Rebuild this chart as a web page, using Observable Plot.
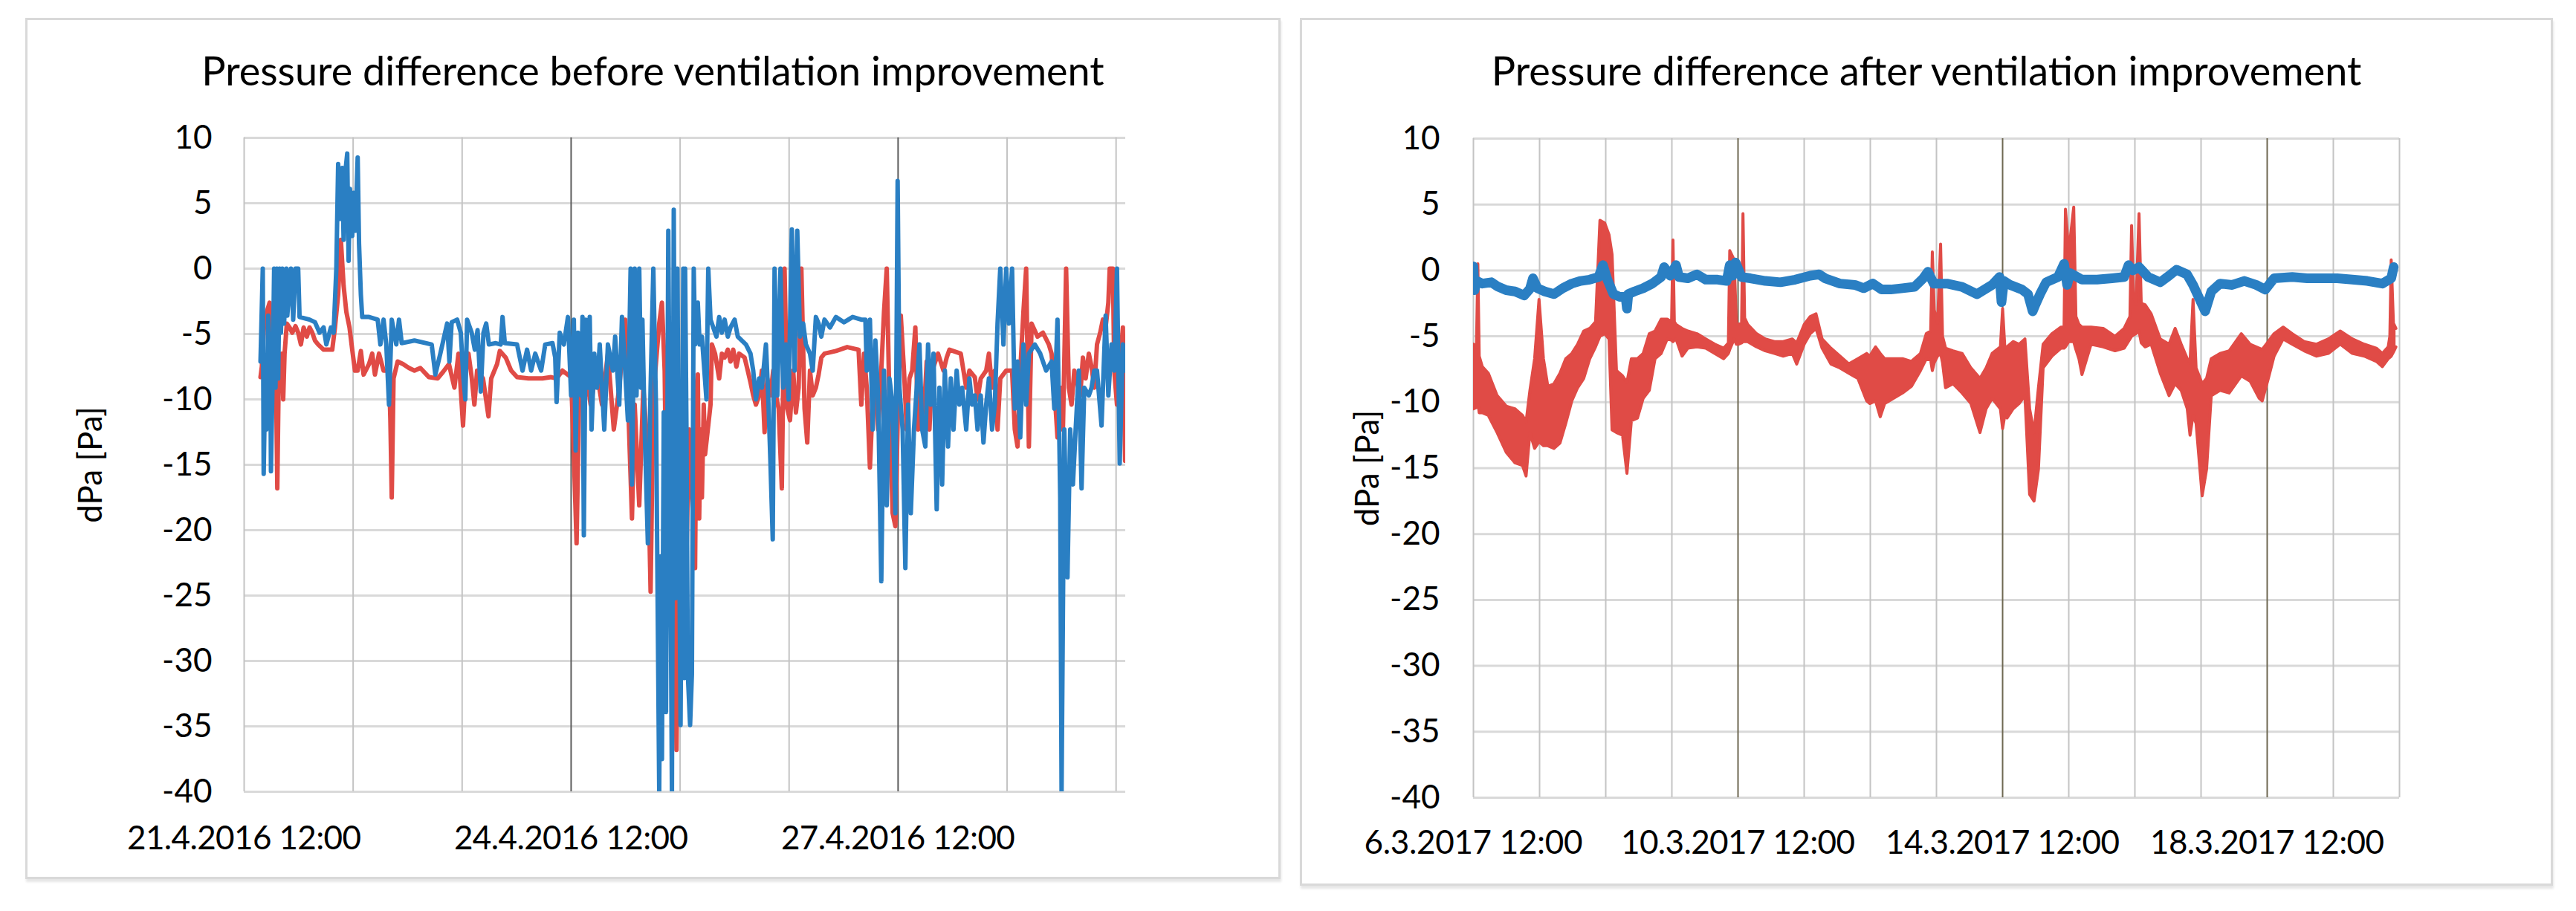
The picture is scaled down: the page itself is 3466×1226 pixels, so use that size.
<!DOCTYPE html>
<html><head><meta charset="utf-8">
<script src="https://cdn.jsdelivr.net/npm/d3@7"></script>
<script src="https://cdn.jsdelivr.net/npm/@observablehq/plot@0.6"></script>
<style>
html,body{margin:0;padding:0;background:#fff;width:3466px;height:1226px;overflow:hidden;font-family:Lato,sans-serif;}
.panel{position:absolute;border:3px solid #d9d9d9;box-sizing:border-box;box-shadow:1px 4px 3px rgba(0,0,0,0.10);background:#fff;}
.title{position:absolute;text-align:center;font-size:54px;color:#000;white-space:nowrap;line-height:60px;height:60px;}
.chart{position:absolute;}
</style></head><body>
<div class="panel" style="left:34px;top:24px;width:1689px;height:1159px"></div>
<div class="panel" style="left:1749px;top:24px;width:1686px;height:1168px"></div>
<div class="title" style="left:34px;width:1689px;top:65px">Pressure difference before ventilation improvement</div>
<div class="title" style="left:1749px;width:1686px;top:65px">Pressure difference after ventilation improvement</div>
<div id="left" class="chart" style="left:34px;top:120px"></div>
<div id="right" class="chart" style="left:1749px;top:120px"></div>
<script>
// ---- axis values ----
const yTicks = [10, 5, 0, -5, -10, -15, -20, -25, -30, -35, -40];
const yLabel = "dPa [Pa]";
// hours after 21.4.2016 12:00
const leftTickHours = [0, 72, 144];
const leftTickLabels = ["21.4.2016 12:00", "24.4.2016 12:00", "27.4.2016 12:00"];
const leftMinorHours = [0, 24, 48, 96, 120, 168, 192];
const leftMajorHours = [72, 144];
// hours after 6.3.2017 12:00
const rightTickHours = [0, 96, 192, 288];
const rightTickLabels = ["6.3.2017 12:00", "10.3.2017 12:00", "14.3.2017 12:00", "18.3.2017 12:00"];
const rightMinorHours = [0, 24, 48, 72, 120, 144, 168, 216, 240, 264, 312, 336];
const rightMajorHours = [96, 192, 288];

// ---- before: [hour, dPa] ----
const beforeRed = [[3.6,-8.3],[3.9,-7.5],[4.4,-4.2],[5.0,-3.3],[5.6,-2.6],[5.9,-9.1],[6.6,-7.8],[7.0,-7.8],[7.3,-16.8],[7.6,-8.7],[8.0,-8.4],[8.3,-6.5],[8.6,-10.0],[8.9,-6.5],[9.4,-4.2],[10.0,-4.5],[10.6,-4.9],[11.3,-4.4],[11.9,-4.9],[12.5,-5.8],[13.1,-4.5],[13.8,-5.2],[14.4,-4.5],[15.0,-4.9],[15.6,-5.5],[16.3,-5.8],[17.5,-6.2],[19.4,-6.2],[20.0,-4.5],[20.7,-2.0],[21.3,2.2],[21.9,-1.3],[22.5,-3.3],[23.2,-4.5],[23.8,-6.2],[24.4,-7.8],[25.0,-7.8],[25.7,-6.3],[26.3,-8.1],[27.5,-7.3],[28.2,-6.5],[28.8,-8.1],[29.7,-6.5],[30.7,-7.8],[31.9,-7.8],[32.2,-11.6],[32.5,-17.5],[32.9,-8.4],[33.8,-7.1],[35.0,-7.3],[36.3,-7.6],[37.5,-7.8],[38.8,-7.6],[40.7,-8.3],[42.6,-8.4],[43.8,-7.9],[45.1,-7.3],[46.3,-9.1],[47.2,-6.5],[48.2,-12.0],[48.8,-7.8],[49.4,-6.5],[50.1,-8.3],[50.7,-10.4],[51.3,-7.8],[52.6,-8.4],[53.8,-11.3],[54.4,-8.4],[55.7,-7.3],[56.3,-6.3],[57.6,-6.8],[58.8,-7.8],[60.1,-8.3],[62.6,-8.4],[65.7,-8.4],[67.6,-8.3],[68.8,-8.4],[70.1,-7.8],[72.0,-8.3],[72.6,-14.2],[73.2,-21.0],[73.8,-9.1],[75.1,-7.5],[76.3,-10.4],[77.6,-7.8],[78.8,-10.4],[80.1,-6.5],[81.4,-12.3],[82.6,-9.1],[83.9,-3.9],[84.5,-9.7],[85.4,-19.1],[86.0,-10.4],[87.0,-18.1],[87.9,-9.1],[88.9,-14.2],[89.5,-24.7],[90.1,-9.7],[91.4,-4.2],[92.0,-2.6],[92.6,-7.8],[93.2,-25.2],[94.2,-12.3],[94.8,-22.0],[95.2,-36.8],[95.7,-18.7],[96.4,-26.8],[97.0,-12.3],[97.4,-22.0],[98.0,-12.3],[98.6,-17.1],[99.3,-22.9],[99.6,-9.1],[99.9,-8.1],[100.2,-19.1],[100.5,-12.3],[100.8,-17.5],[101.2,-10.4],[101.5,-14.2],[102.1,-12.3],[102.7,-10.4],[103.0,-5.8],[103.7,-6.5],[104.6,-8.4],[105.2,-6.5],[105.8,-6.8],[106.5,-6.2],[107.1,-7.1],[107.7,-6.2],[108.4,-7.5],[109.0,-6.5],[110.2,-6.8],[110.9,-7.8],[111.5,-8.7],[112.1,-9.7],[112.7,-10.4],[113.4,-9.7],[114.0,-7.8],[114.6,-12.5],[115.2,-8.4],[115.9,-9.7],[116.5,-7.8],[117.1,-9.7],[117.7,-10.7],[118.4,-16.8],[119.0,0],[119.6,-10.7],[120.2,-11.6],[120.9,-7.8],[121.5,-11.0],[122.1,-9.1],[122.7,0],[123.4,-10.7],[124.0,-13.3],[124.6,-7.8],[125.2,-9.7],[125.9,-9.1],[126.5,-8.1],[127.1,-6.8],[127.8,-6.5],[130.3,-6.3],[132.8,-6.0],[135.3,-6.2],[135.9,-10.4],[136.5,-6.5],[137.1,-9.1],[137.8,-15.2],[138.4,-10.4],[139.0,-9.1],[139.6,-12.3],[140.3,-7.8],[140.9,-3.3],[141.5,0],[142.1,-10.4],[142.8,-18.7],[143.4,-19.7],[144.0,-10.4],[144.6,-3.6],[145.3,-7.8],[145.9,-12.3],[146.5,-8.4],[147.1,-7.8],[147.8,-4.5],[148.4,-12.3],[149.0,-9.1],[149.7,-11.0],[150.3,-7.1],[150.9,-12.3],[151.5,-7.8],[152.2,-7.1],[152.8,-6.5],[154.0,-7.8],[154.7,-6.8],[155.3,-6.2],[157.8,-6.5],[159.0,-9.1],[159.7,-7.8],[160.9,-8.3],[161.5,-10.0],[162.2,-8.4],[163.4,-7.8],[164.0,-6.5],[164.7,-9.1],[165.3,-7.8],[165.9,-12.3],[166.5,-8.4],[167.8,-7.8],[169.1,-7.8],[169.7,-12.3],[170.3,-13.6],[170.9,-7.8],[171.6,-3.3],[172.2,0],[172.8,-13.6],[173.4,-4.2],[174.7,-5.2],[175.9,-4.9],[177.2,-5.8],[177.8,-6.5],[178.4,-9.1],[179.1,-12.9],[179.7,-9.1],[180.3,-12.3],[181.0,0],[181.6,-9.1],[182.2,-10.4],[182.8,-7.8],[184.1,-9.7],[184.7,-6.8],[185.3,-8.4],[186.0,-6.5],[186.6,-7.5],[187.2,-9.1],[187.8,-5.8],[188.5,-4.9],[189.1,-3.9],[189.7,-4.5],[190.3,-2.6],[190.6,0],[191.3,0],[191.6,-7.8],[192.2,-10.4],[192.8,-7.8],[193.5,-4.5],[194.0,-14.7]];

const beforeBlue = [[3.6,-7.1],[4.1,0],[4.3,-15.7],[4.7,-7.1],[4.9,-12.3],[5.3,-3.6],[5.8,-8.7],[5.9,-15.5],[6.3,-7.8],[6.6,0],[6.9,-9.1],[7.2,0],[7.5,-8.4],[7.8,0],[8.1,-4.9],[8.4,0],[8.8,-4.2],[9.3,0],[9.5,-3.6],[10.3,0],[10.8,-3.9],[11.3,0],[11.9,0],[12.2,-3.7],[14.4,-3.9],[15.6,-4.1],[16.6,-4.9],[17.5,-4.5],[18.1,-5.8],[19.1,-4.5],[19.7,-4.9],[20.3,0],[20.7,8.0],[21.2,3.8],[21.6,7.7],[21.9,2.2],[22.2,7.1],[22.7,8.8],[23.0,0.6],[23.3,6.1],[23.8,2.5],[24.1,5.8],[24.5,2.9],[25.0,8.5],[25.3,1.9],[25.7,-2.0],[26.0,-3.7],[27.5,-3.7],[29.4,-3.9],[30.0,-5.8],[30.7,-3.9],[31.3,-5.8],[31.9,-10.4],[32.5,-3.9],[33.5,-5.8],[34.1,-3.9],[34.7,-5.7],[37.5,-5.5],[40.1,-5.7],[41.3,-5.8],[42.1,-8.1],[43.2,-6.5],[44.7,-4.2],[45.2,-7.1],[45.7,-4.1],[46.9,-3.9],[47.7,-4.9],[48.3,-8.4],[48.7,-10.0],[49.1,-3.9],[50.1,-4.9],[50.8,-6.2],[51.4,-4.7],[52.1,-9.4],[52.7,-4.9],[53.3,-4.2],[53.9,-5.8],[55.4,-5.7],[56.5,-5.8],[56.9,-3.7],[57.4,-5.7],[60.1,-5.8],[61.3,-7.8],[62.3,-6.2],[63.2,-7.8],[64.1,-6.5],[65.4,-7.8],[66.3,-5.8],[67.9,-5.7],[68.5,-6.8],[68.8,-10.2],[69.5,-4.9],[70.4,-5.8],[71.3,-3.7],[72.0,-9.7],[72.6,-3.9],[73.0,-13.9],[73.5,-4.9],[74.2,-9.7],[74.5,-3.7],[74.8,-20.4],[75.2,-3.9],[75.7,-9.1],[76.1,-3.7],[76.5,-12.3],[77.1,-6.5],[77.7,-9.1],[78.3,-5.8],[79.3,-12.3],[80.1,-5.8],[81.2,-7.8],[81.7,-5.2],[82.6,-10.4],[83.2,-3.7],[83.9,-7.8],[84.5,-11.6],[85.1,0],[85.4,-16.5],[86.0,0],[86.4,-9.7],[87.0,0],[87.4,-9.1],[87.7,-3.9],[88.2,-12.3],[88.9,-21.0],[89.5,-9.1],[90.1,0],[90.7,-10.7],[91.4,-40],[91.7,-22.0],[92.0,-37.5],[92.4,-11.0],[92.9,-33.9],[93.4,2.9],[93.7,-12.3],[94.2,-40],[94.6,4.5],[95.0,-25.2],[95.4,0],[96.1,-34.9],[96.7,0],[96.9,-31.3],[97.1,0],[97.4,-12.3],[97.7,-31.0],[98.2,-34.9],[98.6,-31.0],[99.0,0],[99.3,-5.8],[99.9,-2.6],[100.3,-5.8],[100.8,-5.2],[101.8,-10.0],[102.2,0],[102.7,-3.9],[104.0,-5.2],[104.6,-3.7],[105.2,-4.9],[105.8,-3.9],[106.5,-5.2],[107.1,-4.5],[108.0,-3.9],[108.7,-5.2],[109.6,-5.5],[110.5,-5.8],[111.5,-6.5],[112.1,-7.8],[112.7,-10.0],[113.4,-8.4],[114.0,-9.1],[114.9,-5.8],[115.4,-9.7],[115.9,-14.9],[116.4,-20.7],[116.8,0],[117.4,-9.7],[118.1,0],[118.7,-9.1],[119.3,-5.8],[119.9,-10.0],[120.6,3.0],[121.2,-7.8],[121.8,2.9],[122.4,-5.2],[123.1,-4.2],[123.7,-5.8],[124.6,-6.5],[125.2,-7.8],[125.9,-3.7],[126.5,-4.2],[127.1,-5.2],[127.8,-3.9],[129.0,-4.5],[130.3,-3.7],[132.1,-4.1],[134.0,-3.7],[135.9,-3.9],[136.8,-3.9],[137.1,-7.8],[137.8,-3.9],[138.4,-12.3],[139.0,-5.5],[139.6,-9.7],[140.3,-23.9],[140.9,-7.8],[141.5,-18.1],[142.1,-8.4],[142.8,-10.4],[143.4,-18.7],[143.9,6.7],[144.3,-9.1],[145.0,-12.3],[145.6,-22.9],[146.2,-10.4],[146.8,-18.7],[147.5,-12.3],[148.1,-9.1],[148.7,-5.8],[149.3,-12.3],[150.0,-13.6],[150.6,-5.8],[151.2,-10.4],[151.8,-6.5],[152.5,-18.4],[153.1,-9.1],[153.7,-16.5],[154.3,-7.8],[155.0,-13.6],[155.6,-8.4],[156.2,-12.3],[156.9,-7.8],[157.5,-10.4],[158.1,-9.1],[159.0,-12.3],[159.7,-8.4],[160.3,-10.4],[160.9,-9.7],[161.5,-12.3],[162.2,-9.7],[162.8,-13.3],[163.4,-10.4],[164.0,-8.4],[164.7,-12.3],[165.3,-10.4],[165.9,-4.2],[166.5,0],[167.2,-5.8],[167.8,0],[168.4,-4.2],[169.1,0],[169.7,-10.7],[170.3,-7.1],[170.9,-12.9],[171.6,-5.8],[172.2,-10.4],[172.8,-6.5],[174.1,-5.8],[175.3,-6.5],[176.6,-7.8],[177.8,-7.1],[178.4,-10.7],[179.1,-3.9],[179.4,-10.7],[179.7,-17.5],[180.0,-40],[180.6,-12.3],[181.3,-23.6],[181.9,-12.3],[182.5,-16.5],[183.1,-12.3],[183.8,-7.8],[184.4,-16.8],[185.0,-9.1],[186.0,-9.7],[186.6,-9.1],[187.2,-7.8],[187.8,-7.8],[188.8,-12.0],[189.7,-3.6],[190.3,-9.7],[191.0,-5.8],[191.6,-7.8],[192.2,0],[192.8,-14.9],[193.5,-5.8],[194.0,-7.8]];

// ---- after: red as [hour, upper, lower] band of the noisy trace ----
const afterRed = [[0.0,-5.6,-10.5],[1.1,-5.8,-10.4],[1.6,0.5,-10.0],[2.1,-6.5,-10.8],[3.2,-7.3,-10.8],[5.4,-7.8,-11.0],[8.6,-9.5,-12.3],[11.9,-10.3,-13.8],[15.1,-10.5,-14.6],[17.8,-11.0,-14.8],[19.1,-11.5,-15.6],[20.5,-9.1,-12.3],[22.2,-6.7,-13.5],[23.8,-2.2,-13.0],[25.4,-6.7,-13.3],[27.0,-8.8,-13.3],[29.2,-8.6,-13.5],[31.4,-7.8,-13.1],[33.5,-6.7,-11.6],[35.7,-6.3,-9.9],[37.8,-5.6,-8.9],[40.0,-4.6,-8.2],[42.2,-4.4,-6.7],[44.3,-3.9,-5.8],[45.9,3.8,-5.0],[47.6,3.6,-4.8],[49.2,2.7,-5.2],[50.3,1.2,-12.1],[51.9,-7.6,-12.3],[54.1,-8.0,-12.5],[55.7,-8.5,-15.4],[57.3,-6.7,-11.4],[59.5,-6.7,-11.2],[61.6,-6.3,-9.7],[63.8,-4.8,-9.1],[65.9,-4.6,-6.7],[68.1,-3.7,-6.3],[70.3,-3.7,-5.2],[71.9,-3.9,-5.3],[72.4,2.3,-5.4],[72.9,-3.9,-5.3],[73.5,-4.1,-5.2],[75.7,-4.4,-6.5],[77.8,-4.6,-5.9],[81.1,-4.8,-5.8],[84.3,-5.2,-5.9],[87.6,-5.6,-6.3],[90.8,-5.9,-6.7],[92.5,-5.5,-6.3],[93.0,1.5,-6.0],[94.6,0.8,-5.2],[95.4,-4.0,-5.6],[96.2,-4.1,-5.6],[97.3,-4.0,-5.5],[97.8,4.3,-5.4],[98.4,-3.6,-5.4],[99.5,-4.1,-5.4],[102.7,-4.8,-5.8],[105.9,-5.2,-6.1],[109.2,-5.4,-6.3],[112.4,-5.4,-6.5],[115.7,-5.2,-6.3],[117.3,-5.5,-7.1],[120.0,-4.1,-5.6],[122.2,-3.5,-4.8],[124.3,-3.3,-4.4],[126.5,-5.2,-5.9],[129.7,-5.9,-7.1],[133.0,-6.5,-7.4],[136.2,-7.1,-7.8],[139.5,-6.7,-8.2],[142.7,-6.3,-9.9],[143.8,-6.5,-10.1],[145.9,-5.8,-9.9],[147.6,-6.3,-11.1],[149.2,-6.7,-10.1],[152.4,-6.7,-9.7],[155.7,-6.7,-9.3],[158.9,-6.9,-8.8],[162.2,-6.3,-7.6],[164.3,-4.8,-6.7],[165.9,-4.6,-6.8],[166.5,1.4,-7.6],[167.2,-3.0,-7.0],[168.4,-4.0,-6.5],[169.5,2.0,-6.3],[170.2,-5.0,-7.0],[171.3,-5.9,-8.9],[174.0,-6.1,-8.6],[177.3,-6.3,-9.3],[180.5,-7.4,-10.1],[183.8,-8.2,-12.3],[186.0,-7.4,-10.5],[188.2,-6.3,-9.7],[191.2,-5.8,-10.5],[192.0,-2.9,-12.0],[192.8,-5.8,-11.0],[193.6,-5.8,-11.2],[195.8,-5.4,-10.5],[198.0,-5.6,-10.1],[200.1,-5.2,-9.5],[201.8,-10.5,-17.0],[203.4,-12.3,-17.5],[205.0,-8.9,-15.1],[206.7,-5.6,-7.4],[209.9,-4.8,-6.5],[213.2,-4.3,-5.9],[214.3,-4.3,-5.9],[214.8,4.65,-5.8],[216.0,1.4,-5.4],[217.8,4.8,-5.4],[218.6,-3.5,-6.0],[219.7,-4.1,-6.7],[220.8,-4.3,-7.9],[224.1,-4.3,-5.6],[228.5,-4.4,-5.8],[232.8,-5.0,-6.1],[236.1,-4.4,-5.9],[238.2,-3.5,-5.2],[238.8,3.4,-5.0],[239.5,-2.0,-4.9],[240.4,-2.6,-4.8],[241.5,4.3,-4.6],[242.3,-2.5,-5.5],[243.7,-2.6,-5.8],[245.9,-3.3,-5.6],[249.2,-5.2,-7.8],[252.4,-5.6,-9.5],[254.6,-4.4,-8.6],[256.8,-5.6,-9.1],[259.0,-6.7,-10.5],[260.0,-7.0,-12.5],[261.1,-2.2,-11.0],[262.2,-7.4,-11.6],[264.4,-8.6,-17.1],[266.0,-8.2,-15.1],[267.7,-6.7,-9.5],[270.9,-6.3,-9.1],[274.2,-6.1,-9.3],[278.6,-4.8,-8.0],[281.8,-5.6,-8.4],[285.1,-5.9,-9.7],[286.2,-6.0,-9.9],[288.4,-5.4,-8.2],[290.5,-4.8,-6.5],[293.8,-4.3,-5.2],[297.1,-4.8,-5.6],[301.4,-5.4,-6.1],[305.8,-5.6,-6.5],[310.2,-5.2,-6.3],[314.5,-4.6,-5.6],[318.9,-5.2,-6.3],[323.2,-5.6,-6.5],[327.6,-5.9,-6.9],[329.8,-6.3,-7.3],[331.9,-5.8,-6.7],[332.5,-5.0,-6.6],[333.0,0.8,-6.5],[333.8,-4.0,-6.2],[334.7,-4.4,-5.8]];

const afterBlue = [[0.0,0.3],[0.4,-1.5],[1.2,-0.8],[3.2,-1.0],[6.5,-0.9],[8.6,-1.2],[11.9,-1.5],[15.1,-1.6],[18.4,-1.9],[20.5,-1.4],[21.6,-0.6],[23.2,-1.35],[25.9,-1.6],[29.2,-1.8],[32.4,-1.35],[35.7,-1.0],[38.9,-0.8],[42.2,-0.7],[45.4,-0.5],[47.0,0.4],[48.6,-0.7],[50.8,-1.8],[53.0,-2.0],[55.2,-2.0],[55.7,-2.9],[56.2,-1.8],[58.4,-1.6],[61.6,-1.35],[64.9,-1.0],[68.1,-0.5],[69.2,0.25],[71.4,-0.4],[73.5,0.4],[74.6,-0.5],[77.8,-0.6],[81.1,-0.3],[84.3,-0.7],[88.6,-0.7],[91.9,-0.8],[93.0,0.4],[94.0,-0.4],[95.1,0.6],[97.3,-0.5],[100.5,-0.6],[105.9,-0.8],[111.4,-0.9],[116.8,-0.7],[122.2,-0.4],[125.4,-0.3],[127.6,-0.6],[133.0,-1.0],[138.4,-1.1],[141.6,-1.35],[144.9,-1.0],[148.1,-1.45],[151.4,-1.45],[155.7,-1.35],[160.0,-1.25],[163.2,-0.6],[164.9,-0.1],[167.0,-1.0],[171.8,-1.0],[177.3,-1.25],[182.7,-1.8],[188.2,-1.1],[190.9,-0.5],[191.6,-2.4],[192.5,-0.8],[194.7,-1.1],[199.0,-1.45],[201.2,-1.8],[202.9,-3.1],[203.9,-2.6],[205.6,-1.8],[207.8,-0.9],[212.1,-0.5],[214.3,0.5],[215.4,-1.1],[216.5,-0.2],[220.8,-0.7],[226.3,-0.7],[231.7,-0.6],[236.1,-0.5],[237.7,0.4],[239.3,0.0],[241.5,0.25],[244.8,-0.5],[249.2,-0.9],[252.4,-0.4],[255.1,0.05],[258.9,-0.3],[261.1,-1.1],[264.4,-2.6],[265.5,-3.1],[267.7,-1.6],[270.9,-1.0],[275.3,-1.1],[279.7,-0.8],[284.0,-1.1],[287.3,-1.45],[290.5,-0.6],[297.1,-0.5],[302.5,-0.6],[308.0,-0.6],[313.4,-0.6],[318.9,-0.7],[324.3,-0.8],[329.8,-1.0],[333.0,-0.6],[333.9,0.25]];

const RED = "#e04b46", BLUE = "#2a7fc3";
const GRID = "#d9d9d9", MINOR = "#c4c4c4";

function chart(o) {
  const svg = Plot.plot({
    width: o.width, height: o.height,
    marginLeft: o.ml, marginRight: o.mr, marginTop: o.mt, marginBottom: o.mb,
    x: {domain: o.xDomain},
    y: {domain: [-40, 10]},
    style: {fontFamily: "Lato, sans-serif", fontSize: "43px", color: "#000", background: "none", overflow: "visible"},
    marks: [
      Plot.ruleY(yTicks, {stroke: GRID, strokeWidth: 3}),
      Plot.ruleX(o.minor, {stroke: MINOR, strokeWidth: 2}),
      Plot.ruleX(o.major, {stroke: o.majorColor, strokeWidth: 2}),
      Plot.axisY({ticks: yTicks, tickSize: 0, tickPadding: o.yPad, tickFormat: d => String(d), label: null, fontSize: 44}),
      Plot.axisX({ticks: o.tickHours, tickSize: 0, tickPadding: o.xPad, label: null, fontSize: 44,
        tickFormat: d => o.tickLabels[o.tickHours.indexOf(d)]}),
      ...o.series,
      Plot.text([yLabel], {frameAnchor: "left", dx: o.labelDx, rotate: -90, fontSize: 44, fill: "#000", textAnchor: "middle", lineAnchor: "middle"})
    ]
  });
  svg.querySelectorAll('g[aria-label="text"] text').forEach(t => { t.style.fontSize = "44px"; });
  // fit each date label to the width it has in the original (about 21px per character)
  svg.querySelectorAll('g[aria-label="x-axis tick label"] text').forEach(t => {
    t.setAttribute("textLength", String(t.textContent.length * 21));
    t.setAttribute("lengthAdjust", "spacing");
  });
  return svg;
}

const leftSeries = [
  Plot.line(beforeRed, {x: d => d[0], y: d => d[1], stroke: RED, strokeWidth: 6, clip: true}),
  Plot.line(beforeBlue, {x: d => d[0], y: d => d[1], stroke: BLUE, strokeWidth: 6, clip: true})
];
document.getElementById("left").append(chart({
  width: 1689, height: 1040, ml: 294, mr: 209, mt: 65, mb: 95,
  xDomain: [0, 194.1], minor: leftMinorHours, major: leftMajorHours, majorColor: "#5c5c5c",
  tickHours: leftTickHours, tickLabels: leftTickLabels, yPad: 43, xPad: 46, labelDx: -206,
  series: leftSeries
}));

const rightSeries = [
  Plot.areaY(afterRed, {x: d => d[0], y1: d => d[2], y2: d => d[1], fill: RED, clip: true}),
  Plot.line(afterRed, {x: d => d[0], y: d => d[1], stroke: RED, strokeWidth: 4, clip: true}),
  Plot.line(afterRed, {x: d => d[0], y: d => d[2], stroke: RED, strokeWidth: 4, clip: true}),
  Plot.line(afterBlue, {x: d => d[0], y: d => d[1], stroke: BLUE, strokeWidth: 13, clip: true})
];
document.getElementById("right").append(chart({
  width: 1686, height: 1050, ml: 233, mr: 207, mt: 66, mb: 97,
  xDomain: [0, 336], minor: rightMinorHours, major: rightMajorHours, majorColor: "#6e6852",
  tickHours: rightTickHours, tickLabels: rightTickLabels, yPad: 45, xPad: 44, labelDx: -142,
  series: rightSeries
}));
</script>
</body></html>
